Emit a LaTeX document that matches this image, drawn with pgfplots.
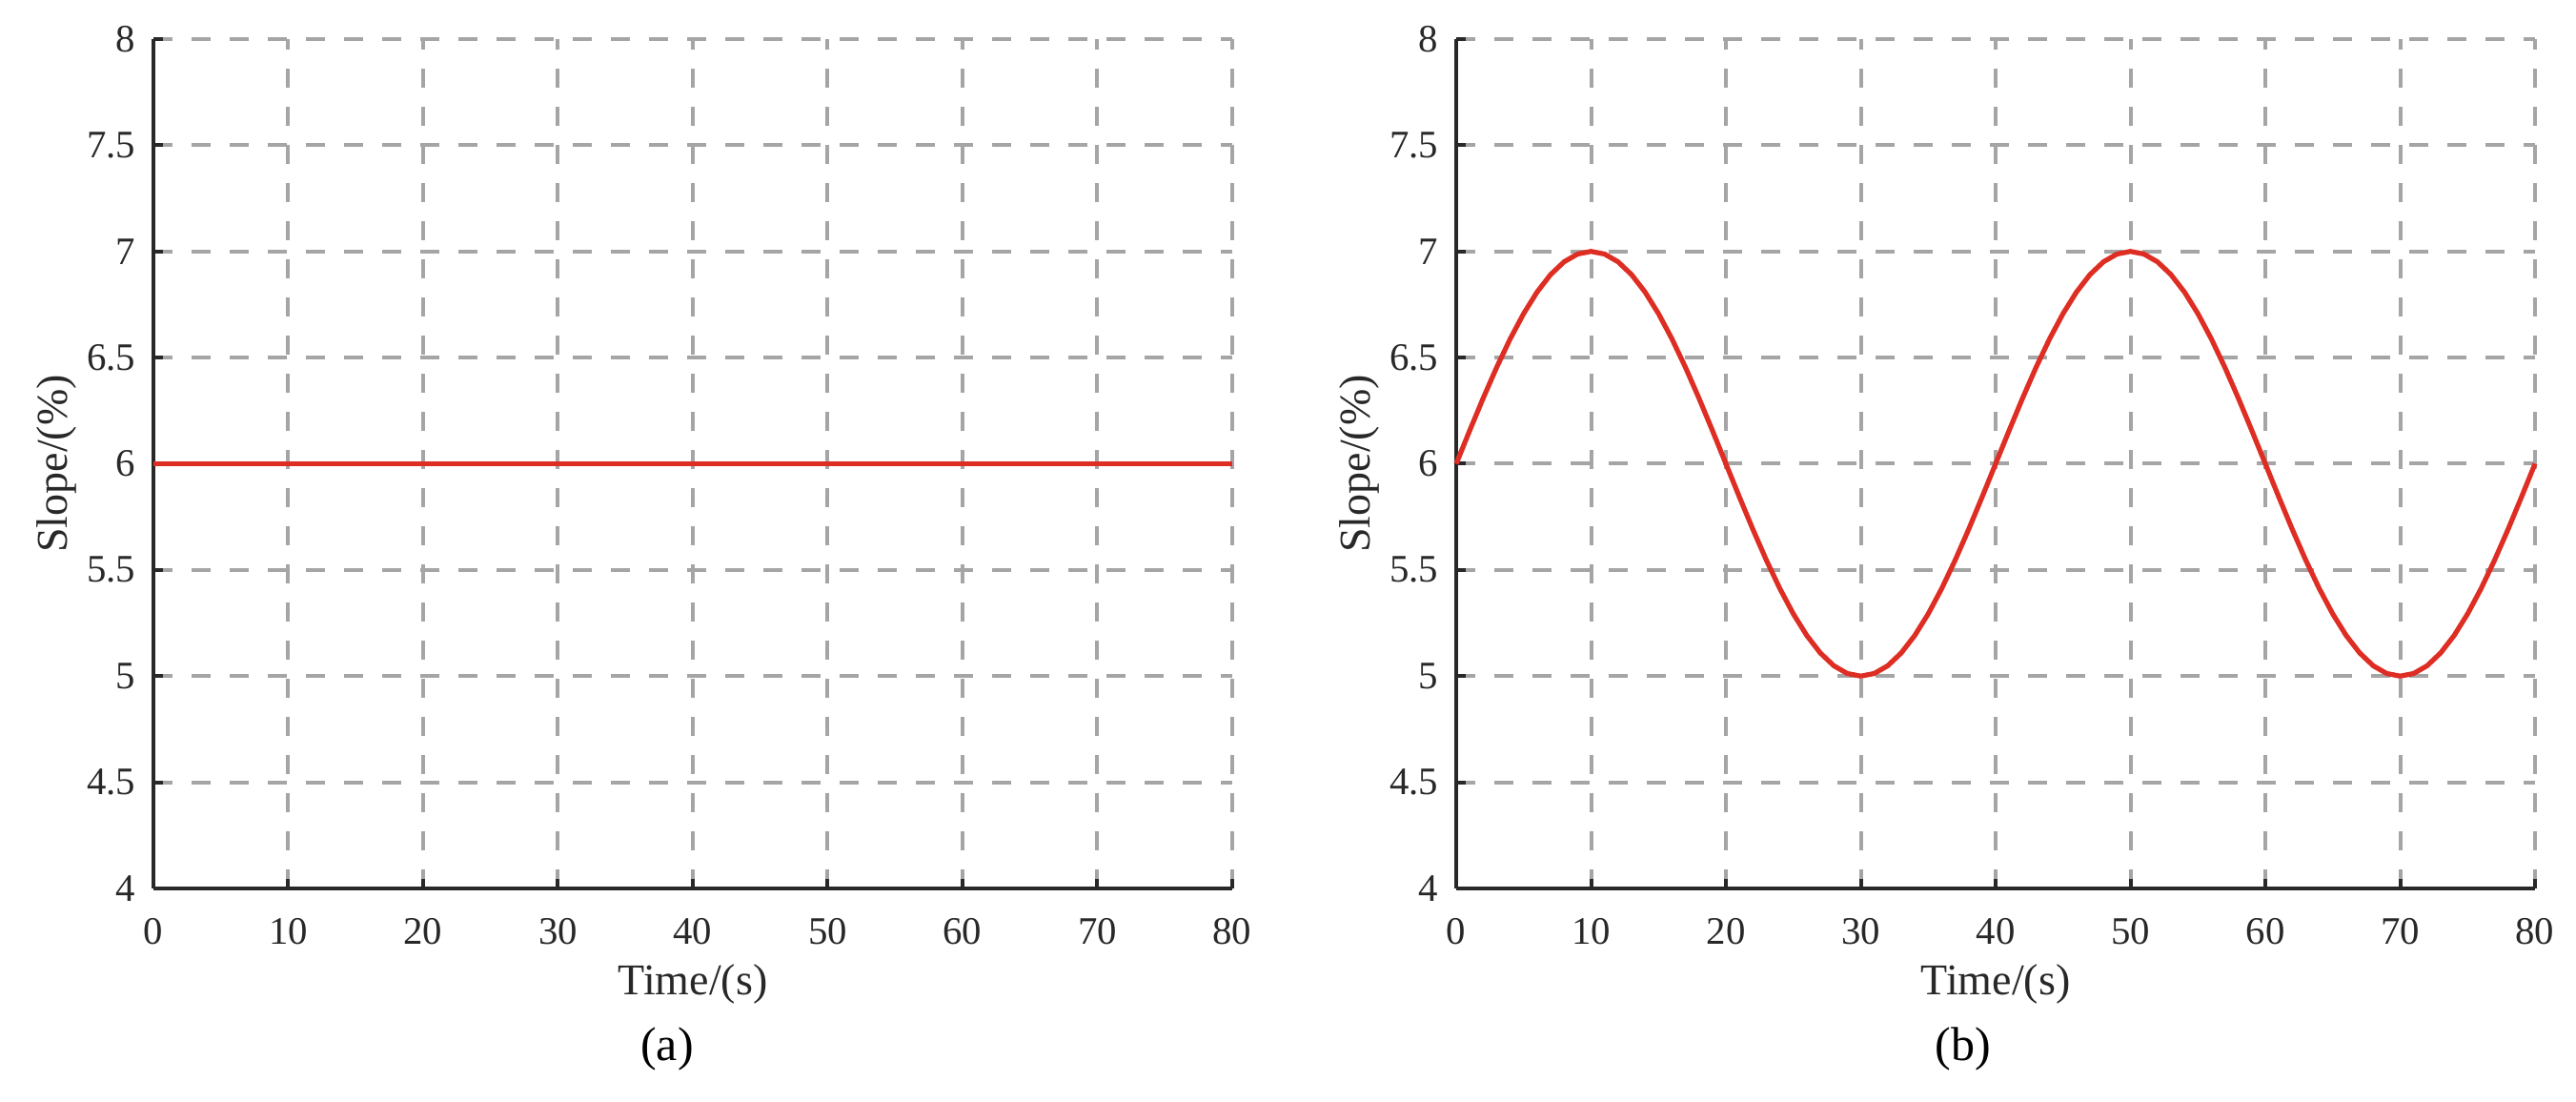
\documentclass[border=0pt]{standalone}
\usepackage{fontspec}
\setmainfont{Liberation Serif}
\usepackage{pgfplots}
\pgfplotsset{compat=1.18}
\usepackage{pgfplotstable}

\definecolor{gridgray}{RGB}{165,165,165}
\definecolor{curvered}{RGB}{222,45,35}
\definecolor{axisblack}{RGB}{40,40,40}

% slope profile, case (b): one point per second
\pgfplotstableread{
t s
0 6
1 6.1564
2 6.3090
3 6.4540
4 6.5878
5 6.7071
6 6.8090
7 6.8910
8 6.9511
9 6.9877
10 7
11 6.9877
12 6.9511
13 6.8910
14 6.8090
15 6.7071
16 6.5878
17 6.4540
18 6.3090
19 6.1564
20 6
21 5.8436
22 5.6910
23 5.5460
24 5.4122
25 5.2929
26 5.1910
27 5.1090
28 5.0489
29 5.0123
30 5
31 5.0123
32 5.0489
33 5.1090
34 5.1910
35 5.2929
36 5.4122
37 5.5460
38 5.6910
39 5.8436
40 6
41 6.1564
42 6.3090
43 6.4540
44 6.5878
45 6.7071
46 6.8090
47 6.8910
48 6.9511
49 6.9877
50 7
51 6.9877
52 6.9511
53 6.8910
54 6.8090
55 6.7071
56 6.5878
57 6.4540
58 6.3090
59 6.1564
60 6
61 5.8436
62 5.6910
63 5.5460
64 5.4122
65 5.2929
66 5.1910
67 5.1090
68 5.0489
69 5.0123
70 5
71 5.0123
72 5.0489
73 5.1090
74 5.1910
75 5.2929
76 5.4122
77 5.5460
78 5.6910
79 5.8436
80 6
}\sinecase

\pgfplotsset{
  slopeax/.style={
    scale only axis, width=283pt, height=222.75pt,
    xmin=0, xmax=80, ymin=4, ymax=8,
    xtick={0,10,...,80}, ytick={4,4.5,...,8},
    axis x line*=bottom, axis y line*=left,
    axis line style={draw=axisblack, line width=1pt},
    tick align=inside, major tick length=2.5pt,
    tick style={draw=axisblack, line width=1pt},
    grid=major,
    major grid style={draw=gridgray, line width=1pt, dash pattern=on 5pt off 5pt},
    /pgf/number format/assume math mode=true,
    ticklabel style={font=\fontsize{10.2}{11}\selectfont, text=axisblack, inner sep=0pt},
    xticklabel style={anchor=center, yshift=-11.25pt},
    yticklabel style={anchor=east, xshift=-4.5pt},
    label style={font=\fontsize{11.5}{13}\selectfont, text=axisblack},
    xlabel={Time/(s)}, ylabel={Slope/(\%)},
    xlabel style={at={(axis description cs:0.5,0)}, anchor=center, yshift=-25pt},
    ylabel style={at={(axis description cs:0,0.5)}, anchor=center, yshift=25.5pt},
    clip=false,
  },
}

\begin{document}
\begin{tikzpicture}
\useasboundingbox (0,0) rectangle (675.75pt,289pt);

\begin{axis}[slopeax, at={(40.25pt,56pt)}, anchor=south west]
\addplot[curvered, line width=1.3pt] coordinates {(0,6) (80,6)};
\end{axis}

\begin{axis}[slopeax, at={(382pt,56pt)}, anchor=south west]
\addplot[curvered, line width=1.3pt] table[x=t, y=s] {\sinecase};
\end{axis}

\node[font=\fontsize{12.5}{14}\selectfont] at (175pt,14pt) {(a)};
\node[font=\fontsize{12.5}{14}\selectfont] at (515pt,14pt) {(b)};
\end{tikzpicture}
\end{document}
